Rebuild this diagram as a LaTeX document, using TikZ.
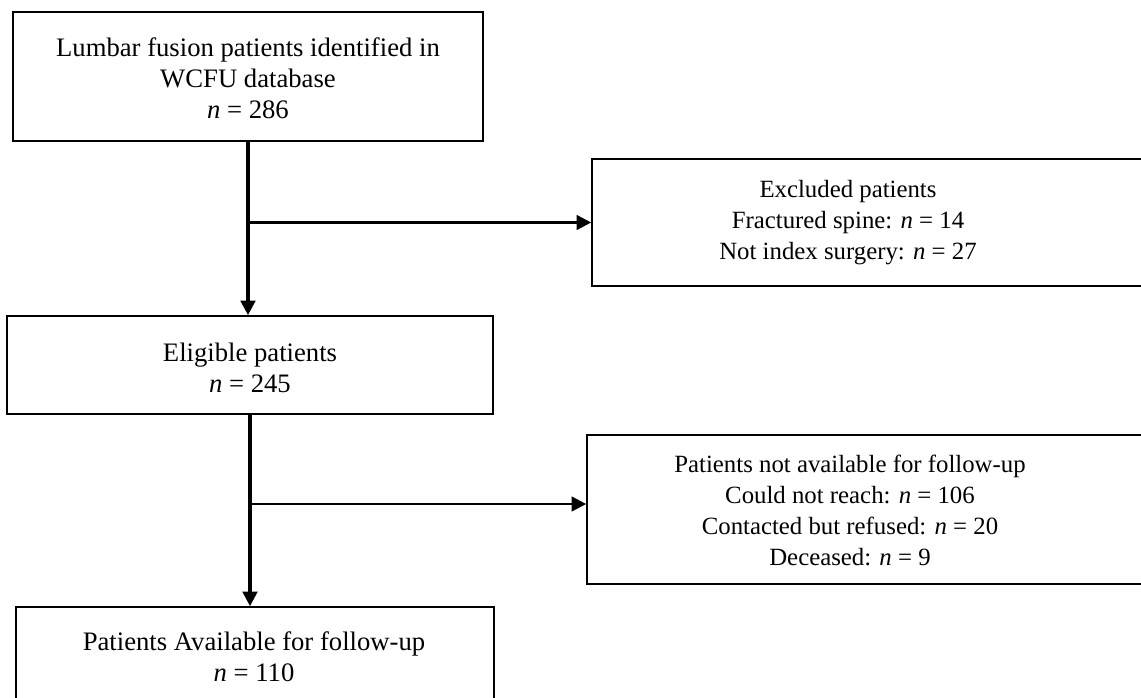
\documentclass[tikz,border=0pt]{standalone}
\usepackage{fontspec}
\setmainfont{Liberation Serif}
\usetikzlibrary{arrows.meta,fit}
\begin{document}
\begin{tikzpicture}[x=0.75pt,y=-0.75pt,
  box/.style={draw=black,line width=1.2pt,inner sep=0pt},
  txt/.style={inner sep=0pt,align=center,font=\fontsize{20}{23.25}\selectfont},
  rtxt/.style={inner sep=0pt,align=center,font=\fontsize{18.6}{23.25}\selectfont},
  varrow/.style={line width=2.3pt,-{Triangle[length=11pt,width=11pt]}},
  harrow/.style={line width=1.9pt,-{Triangle[length=11pt,width=11pt]}}]
\useasboundingbox (0,0) rectangle (1141,698);
\clip (0,0) rectangle (1141,698);
\node[box,fit={(13,12)(483,141)}] (b1) {};
\node[txt] (b1t) at (248,78) {Lumbar fusion patients identified in\\WCFU database\\\textit{n} = 286};
\node[box,fit={(7,316)(493,414)}] (b2) {};
\node[txt] (b2t) at (250,368) {Eligible patients\\\textit{n} = 245};
\node[box,fit={(16,607)(494,712)}] (b3) {};
\node[txt] (b3t) at (254,657) {Patients Available for follow-up\\\textit{n} = 110};
\node[box,fit={(592,159)(1160,286)}] (ex) {};
\node[rtxt] (ext) at (848,223) {Excluded patients\\Fractured spine: \textit{n} = 14\\Not index surgery: \textit{n} = 27};
\node[box,fit={(587,435)(1160,584)}] (na) {};
\node[rtxt] (nat) at (850,510) {Patients not available for follow-up\\Could not reach: \textit{n} = 106\\Contacted but refused: \textit{n} = 20\\Deceased: \textit{n} = 9};
\draw[varrow] (b1.south) -- (b1.south |- b2.north);
\coordinate (j1) at (b1.south |- ex.west);
\draw[harrow] (j1) -- (ex.west);
\draw[varrow] (b2.south) -- (b2.south |- b3.north);
\coordinate (j2) at (251,504);
\draw[harrow] (j2) -- (j2 -| na.west);
\end{tikzpicture}
\end{document}
